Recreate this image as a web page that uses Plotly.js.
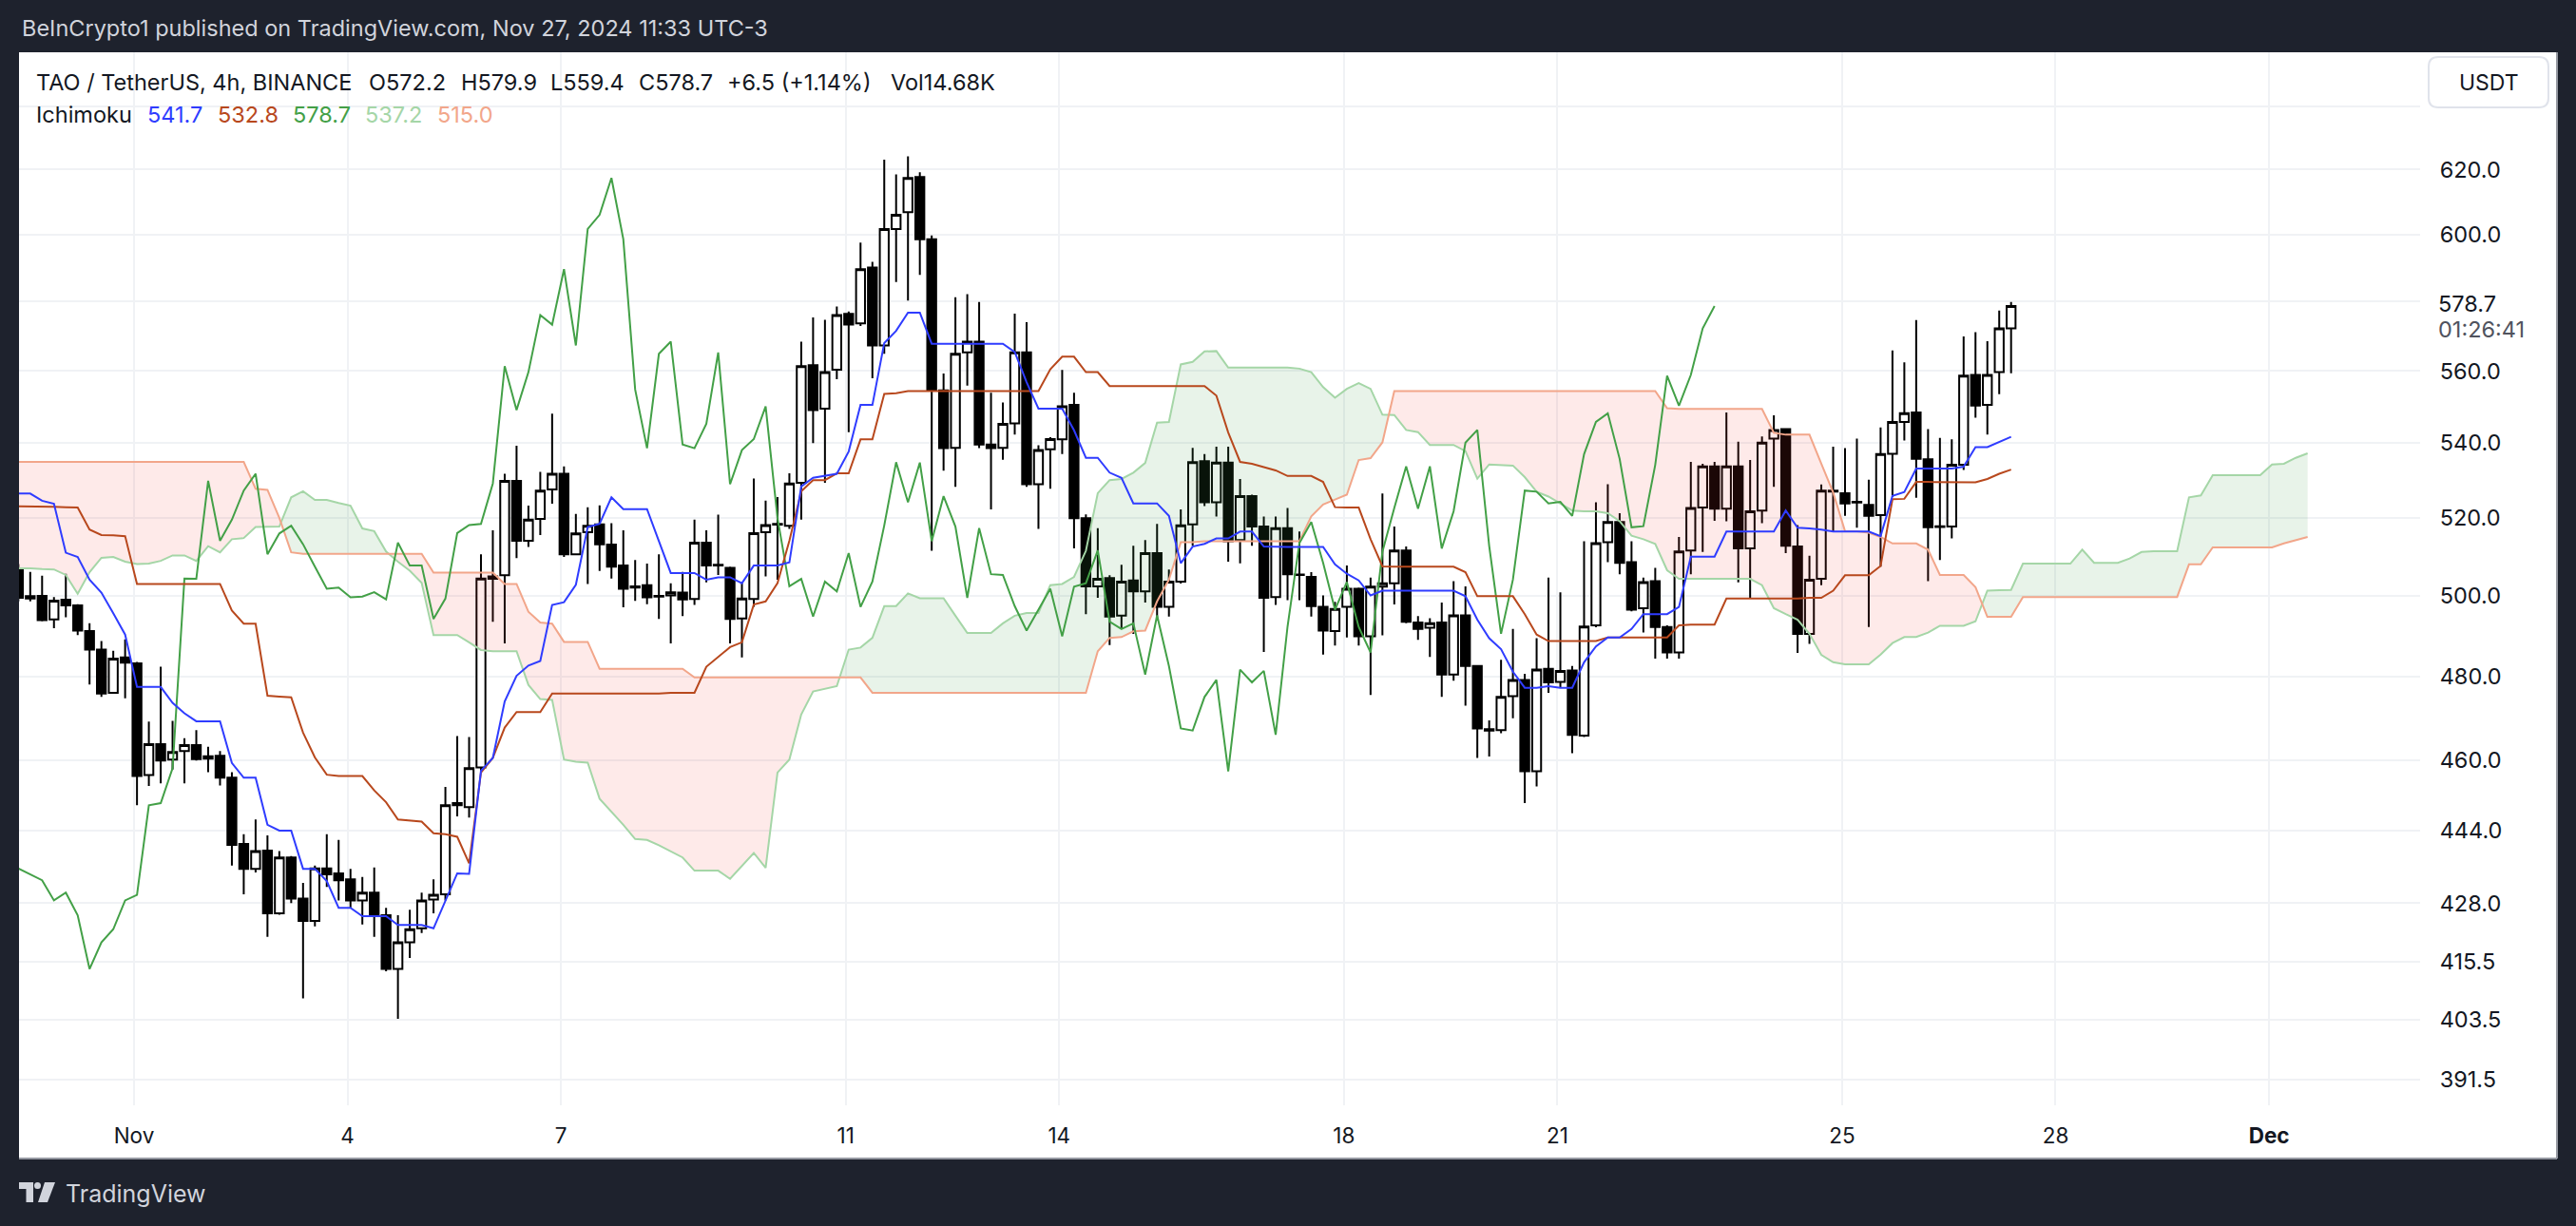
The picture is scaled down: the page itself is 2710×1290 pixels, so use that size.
<!DOCTYPE html>
<html>
<head>
<meta charset="utf-8">
<script src="https://cdn.plot.ly/plotly-3.0.1.min.js"></script>
<style>
html,body{margin:0;padding:0;background:#1e222d;}
#chart{width:2710px;height:1290px;}
</style>
</head>
<body>
<div id="chart"></div>
<script>
// ---------------- DATA ----------------
// 4h candles, local time UTC-3, first candle opens 2024-10-30 09:00
const firstCandle = Date.UTC(2024, 9, 30, 9, 0);
const candleMs = 4 * 3600 * 1000;

const openP = [506.9,499.8,499.9,494,498.9,497.5,491.1,486.5,476,484.6,
483.1,456.6,463.8,460.2,462.2,463.6,461,461.1,456,441,
435.5,439.5,425.8,438,429,424.2,435.6,434.5,433.2,428.6,
430.3,425.4,414,419.6,422.6,428.8,429.9,449.7,449.3,458.4,
504.8,505.1,529.8,514,519.7,527.5,531.7,510.5,516.2,518.3,
513,507.6,502.3,502.6,499.9,500,500.7,499.1,513.5,507.8,
507,494.2,499.1,516.2,518.2,517.9,529.3,561.7,549.5,560.4,
576.4,573.7,590.1,567.3,601.7,606.8,617.7,598.6,554.6,538.7,
565.3,568.4,539.6,538.7,545.4,565.3,528.9,538.3,541,550.5,
519.9,502.3,504.4,494.9,503.8,501,510.8,497.1,503.5,518.3,
535.1,524.1,534.7,514.2,525.7,517.7,499.6,517.3,505.3,504.7,
497.1,491.1,497.1,501.7,489.8,502.2,503.1,511.5,493.2,491.9,
493.2,480.4,495,482.5,467.3,467.1,475.2,479.1,457.5,481.8,
478.6,481.4,465.8,492.5,513.6,518.9,508.5,496.8,503.6,492.1,
485.8,511.5,522.7,533.7,522.4,533.7,512,521.9,541.2,543.8,
512.5,490.4,504.2,527.2,526.5,524,523.4,520.7,537.1,545.8,
548.4,535.6,517.6,517.7,534.1,558.9,550.5,559.7,572.2];

const highP = [508,506,505,499.6,505.5,497.8,493,488.6,486.2,489,
483.5,469.1,482.3,469.3,465.2,467.1,463.2,462.2,457.3,443.2,
446.5,442.9,439.4,438.3,432.4,436.2,443.2,441.9,435.5,433.7,
435.8,427,425.4,426.6,430.3,433.2,453.9,465.7,465.5,510.5,
516.7,531.7,539.3,523.2,532.2,548.1,533.7,521,522.8,523.3,
518.6,516.7,509,508.1,510.5,503.1,506,519.5,516.7,520.8,
507.3,503.3,530.4,524.5,525.5,531.8,568.4,575.4,574.7,578.6,
577.1,597.6,591.8,623.1,618.5,624.2,619.2,599.7,559.3,581.3,
582.2,579.9,553.9,551.2,576.5,574,539.4,541.6,560.3,553.9,
520.9,517.3,505.1,507.8,512.7,514.2,518.4,506.6,522.2,538.7,
537,539,539,530.3,526.1,520.3,520.3,522.6,516.4,505.9,
500,498.4,507.6,502,504.5,526.4,517.7,512.5,494.8,494.3,
498.2,503.6,502.3,482.6,469.4,484,491.6,480.6,489.3,504.5,
500.8,482.5,513.9,524.1,528.9,521.2,513.9,504.5,507,492.5,
515,534.9,534.4,534.9,548.4,540.4,535.4,541.8,547.6,544.1,
518.1,510.1,528.8,539,538.6,541.2,530.1,544.3,565.9,562.5,
574.6,543.8,541.4,541,569.9,571.1,568.5,577.4,579.9];

const lowP = [498.5,498.5,493.5,491.8,494.5,490.1,478,475,475.8,474.7,
449.7,454.1,454.7,457.9,454.7,460,457.3,454.2,436.2,429.9,
434.7,420.8,425.5,428,407.9,423,431.5,428.6,427,423.4,
420.8,413.5,403.7,416.3,421.6,425.8,428.6,447.2,446.9,457.5,
493.4,488,509.5,512.4,515.5,523.7,509.8,510.3,502.9,506.2,
504.3,497,498.6,497.8,494.1,488,494.8,497.6,503.3,505.2,
488,484.6,497.1,504.8,504,517.1,519.5,540,529.3,557.7,
543,572.9,558,564.9,585.8,580.3,587.9,511.4,532.5,528.2,
555.9,538.6,522.2,535.5,542.3,528.2,517.1,527.7,537,512,
495.3,499.4,487.6,491.8,490.4,498.2,494.1,494.7,503,512.7,
523.1,520.3,508.6,508.2,512.7,485.9,497.6,498.8,498.8,494.7,
485.3,487.5,489.5,487.5,475.5,490,497.7,493,488.9,484.7,
475,478.9,472.9,460.6,460.9,466.4,469.9,450.2,454,476,
477.2,461.7,465.5,492,508.5,505.4,496,490.7,484.3,484.3,
484.3,505.4,511.1,519.2,519.1,503.3,499.4,518.6,528.2,510.8,
485.7,487.9,502.6,516.2,520.5,517.4,492.1,507.3,525.5,540.7,
525.3,503.6,509,514.6,532.7,547,542.3,553.5,559.4];

const closeP = [499.4,499.2,493.8,498.7,497.5,491.2,486.5,475.8,484.3,483.3,
456.4,463.8,460,462,463.6,460.3,460.4,456,440.8,435.5,
439.4,425.8,438,429,424.2,435.6,434.3,433,428.6,430.3,
425.4,414,419.6,422.4,428.6,429.8,449.7,450.2,458.2,504.3,
504.2,529.8,514,519.5,527.2,531.7,510.5,515.9,517.9,513.1,
507.3,501.7,502,499.5,499.7,500.8,499,513.5,507.6,507.6,
494.1,499.2,516,518.1,518.4,529.1,561.4,549.1,559.7,576.1,
573.3,589.6,567.3,601.7,606,617.4,598.6,554.8,538.6,564.9,
568.4,539.6,538.6,545.3,565.3,528.9,538.1,541.1,550.1,519.9,
502.3,504.2,494.7,503.5,501,510.8,497.1,503.5,518,534.8,
524.1,534.7,513.9,525.7,517.7,499.4,517.3,505.4,505.2,497.3,
491.2,496.6,501.7,489.8,502.2,503.1,511.5,493.4,491.6,493,
480.4,495,482.5,467.5,467,475,479.1,457.5,481.6,478.5,
481.3,466,492.2,513.4,518.9,508.3,496.4,503.4,492.1,485.8,
511.2,522.6,533.7,522.4,533.7,512,521.7,540.1,543.6,512.7,
490.4,504,527.2,526.9,523.8,524.2,520.5,537,545.8,548.2,
535.7,517.5,517.8,534.1,558.7,550.3,558.9,572.2,578.7];

// Ichimoku: conversion (tenkan) and base (kijun) lines, one value per candle
const tenkan = [526.4,526.4,524.5,523.7,510.9,509.8,504,500.7,495.5,490.2,
477.4,477.4,477.4,473.6,471.1,469.2,469.2,469.2,459.4,456,
456,445.3,444,444,435.5,435.5,432.8,427,427,425.2,
425.2,425.2,423.3,423.3,423.3,422.6,428.6,434.5,434.4,457.6,
460.6,473.9,480.1,482.6,483.7,497.6,498.3,502.7,517.6,518.4,
525.4,522.3,522.3,522.3,513.9,505.7,505.7,505.7,504,504.6,
504.6,503.1,507.6,507.6,507.6,508.4,528.3,530.6,531.2,531.7,
537.7,550.5,550.5,568,571.5,576.8,576.8,567.8,567.8,567.8,
567.8,567.8,567.8,567.8,565.4,556.9,549.5,549.5,549.5,543.5,
536,536,532,530.6,523.8,523.8,523.8,520.5,508.2,512.5,
513.2,514.6,514.6,516.4,516.4,512.5,512.4,512.4,512.4,512.4,
512.4,507.9,505.5,503.8,500,501.2,501.2,501.2,501.2,501.2,
501.2,501.2,499.8,493.9,489.3,486.6,481.1,477.2,477.2,477.6,
477.2,477.2,483.4,487.3,489.5,489.5,491.6,495.3,495.3,495.3,
497.1,509.9,509.9,509.9,516.4,516.4,516.4,516.4,516.4,521.9,
517.4,517.2,516.9,516.4,516.4,516.4,516.4,515.2,525.8,526.8,
533.1,533.1,533.1,533.1,533.6,538.9,538.9,540.4,541.7];

const kijun = [523,523,523,522.9,522.8,522.7,516.9,515.5,515.4,515.2,
502.9,502.9,502.9,502.9,502.9,502.9,502.9,502.9,496.2,492.9,
492.9,475.3,475.1,474.9,466.5,460.7,456.7,456.4,456.4,456.4,
453.1,450.4,446.5,446.2,446,443.4,443.2,442.6,436.7,457.2,
460.6,467.7,471.4,471.4,471.4,475.8,475.8,475.8,475.8,475.8,
475.8,475.8,475.8,475.8,475.8,476,476,476,482.3,484.8,
487.1,488.3,497.7,498.5,503.1,514,527,530,530,531.8,
531.8,541,541,553.6,553.8,554.4,554.4,554.4,554.4,554.4,
554.4,554.4,554.4,554.4,554.4,554.4,554.4,560.5,564.1,564.1,
559.7,559.7,555.8,555.8,555.8,555.8,555.8,555.8,555.8,555.8,
555.8,553.1,542.9,534.9,534.4,533.5,532.6,531.1,531.1,531.1,
529.5,522.8,522.7,522.7,514.4,507.4,507.3,507.3,507.3,507.3,
507.3,507.3,505.9,499.8,499.8,499.8,499.8,495.3,490.2,488.6,
488.6,488.6,488.6,488.6,489.5,489.5,489.5,489.5,489.5,489.5,
492.5,492.7,492.7,492.7,499.2,499.2,499.2,499.2,499.2,499.2,
499.2,499.4,499.4,501.2,505.1,505.1,505.1,507.5,524.9,525,
529.5,529.5,529.5,529.5,529.5,529.4,530.3,531.7,532.8];

// Leading spans, as plotted (already displaced 25 candles ahead), from the first candle slot
const spanA = [506.9,506.9,506.7,506.6,505.2,500.4,505.9,509.6,509.8,508.6,
508,508.1,508.8,510.2,510.2,508.8,512.6,511,514.4,514.7,
517.6,517.7,517.7,525.4,527,524.7,524.7,523.9,523.2,517.2,
516.5,511.2,508.6,506.3,503.2,490.1,490.1,490.1,488.3,486.4,
486.1,486.1,486.1,477.9,474.5,474.3,460.2,459.7,459.5,451.2,
448.3,445.3,442.1,441.9,440.7,439.4,438,435.1,435.1,435.1,
433.3,436.1,439,435.7,457.2,460.2,470.8,476.3,477,477.6,
486.5,487,489.4,497.3,497.3,500.5,499.3,499.3,499.3,494.9,
490.6,490.6,490.6,493,494.9,495.6,495.6,502.6,502.9,504.7,
511.4,526.5,530,530.3,532,534.6,545.6,545.8,561.9,562.6,
565.6,565.7,561,561,561,561,561,561,560.7,559.7,
555.5,552.5,555,556.6,555,547.8,547.7,543.6,543,539.5,
539.5,539.5,537.8,530.4,534.2,534.1,533.9,530.8,526.9,525.6,
523.8,521.9,521.7,521.7,521.2,519.1,515.3,514.4,513.2,506.4,
504.2,504.2,504.2,504.2,504.2,504.2,504.2,502.6,496.8,495.3,
493.9,490.4,485.2,483.4,482.9,482.9,482.9,485.3,488.1,489.6,
489.6,490.7,492.4,492.4,492.4,493.5,501.2,501.3,501.4,508.1,
508.1,508.1,508.1,508.1,511.7,508.3,508.3,508.3,509.4,511.1,
511.3,511.3,511.3,525.4,525.9,531.3,531.3,531.3,531.3,531.3,
534.2,534.4,536,537.2];

const spanB = [534.9,534.9,534.9,534.9,534.9,534.9,534.9,534.9,534.9,534.9,
534.9,534.9,534.9,534.9,534.9,534.9,534.9,534.9,534.9,534.9,
527.7,527.4,520,511,510.6,510.6,510.6,510.6,510.6,510.6,
510.6,510.6,510.6,510.6,510.6,505.8,505.8,505.8,505.8,505.8,
505.8,502.9,502.9,495.9,493.2,492.9,488.4,488.4,488.4,481.8,
481.8,481.8,481.8,481.8,481.8,481.8,481.8,479.7,479.7,479.7,
479.7,479.7,479.7,479.7,479.7,479.7,479.7,479.7,479.7,479.7,
479.7,479.7,476,476,476,476,476,476,476,476,
476,476,476,476,476,476,476,476,476,476,
476,486.1,489.4,489.6,491,491.2,498.5,504,513.6,513.6,
513.9,513.9,513.9,513.9,513.9,513.9,513.9,513.9,513.9,520.4,
523.5,524.8,526.1,535.4,535.9,540.2,554.4,554.4,554.4,554.4,
554.4,554.4,554.4,554.4,554.4,554.4,554.4,554.4,554.4,554.4,
554.4,554.4,554.4,554.4,554.4,554.4,554.4,554.4,554.4,549.6,
549.4,549.4,549.4,549.4,549.4,549.4,549.4,549.4,542.8,542.3,
542.3,542.3,534.4,526.7,516.5,516.5,516.1,515,513.3,513.3,
513.3,511.7,505.2,505.2,505.2,502.1,494.6,494.6,494.6,499.6,
499.6,499.6,499.6,499.6,499.6,499.6,499.6,499.6,499.6,499.6,
499.6,499.6,499.6,507.9,507.9,512.3,512.3,512.3,512.3,512.3,
512.3,513.3,514.2,515];

const lagShift = 25;

// Axis labels
const dateTickDays = [[10,1],[10,4],[10,7],[10,11],[10,14],[10,18],[10,21],[10,25],[10,28],[11,1]];
const dateTickText = ['Nov','4','7','11','14','18','21','25','28','<b>Dec</b>'];
const priceGrid = [640,620,600,580,560,540,520,500,480,460,444,428,415.5,403.5,391.5];
const priceText = ['','620.0','600.0','','560.0','540.0','520.0','500.0','480.0','460.0','444.0','428.0','415.5','403.5','391.5'];

// Legend texts
const titleLine = 'BeInCrypto1 published on TradingView.com, Nov 27, 2024 11:33 UTC-3';
const symbolText = 'TAO / TetherUS, 4h, BINANCE';
const ohlcText = ['O572.2','H579.9','L559.4','C578.7','+6.5 (+1.14%)','Vol14.68K'];
const ichiValues = ['541.7','532.8','578.7','537.2','515.0'];
const lastPrice = 578.7;
const countdown = '01:26:41';

// ---------------- STYLE / LAYOUT ----------------
const W = 2710, H = 1290;
const plotL = 20, plotR = 2546, plotT = 55, plotB = 1163;
const PX = x => (x - plotL) / (plotR - plotL);
const PY = y => (plotB - y) / (plotB - plotT);

const colTenkan = '#2f3cff', colKijun = '#b8481d', colLag = '#43a047',
      colA = '#a5d6a7', colB = '#f2a68a';
const FONT = 'Inter, Roboto, "Noto Sans", sans-serif';

const tAt = k => firstCandle + k * candleMs;
const xC = openP.map((_, k) => tAt(k));

// cloud with crossing points
const cx = [], ca = [], cb = [];
for (let j = 0; j < spanA.length; j++) {
  cx.push(tAt(j)); ca.push(spanA[j]); cb.push(spanB[j]);
  if (j < spanA.length - 1) {
    const d0 = Math.log(spanA[j]) - Math.log(spanB[j]);
    const d1 = Math.log(spanA[j+1]) - Math.log(spanB[j+1]);
    if (d0 * d1 < 0) {
      const s = d0 / (d0 - d1);
      const v = Math.exp(Math.log(spanA[j]) + s * (Math.log(spanA[j+1]) - Math.log(spanA[j])));
      cx.push(tAt(j) + s * candleMs); ca.push(v); cb.push(v);
    }
  }
}
const chi = ca.map((a, i) => Math.max(a, cb[i]));
const spanX = spanA.map((_, j) => tAt(j));

const lagX = [], lagY = [];
for (let k = lagShift; k < closeP.length; k++) { lagX.push(tAt(k - lagShift)); lagY.push(closeP[k]); }

const noLine = {width: 0, color: 'rgba(0,0,0,0)'};
const traces = [
  {x: cx, y: cb, mode: 'lines', line: noLine, hoverinfo: 'skip', showlegend: false},
  {x: cx, y: chi, mode: 'lines', line: noLine, fill: 'tonexty', fillcolor: 'rgba(67,160,71,0.12)', hoverinfo: 'skip', showlegend: false},
  {x: cx, y: ca, mode: 'lines', line: noLine, hoverinfo: 'skip', showlegend: false},
  {x: cx, y: chi, mode: 'lines', line: noLine, fill: 'tonexty', fillcolor: 'rgba(244,67,54,0.11)', hoverinfo: 'skip', showlegend: false},
  {x: spanX, y: spanA, mode: 'lines', line: {color: colA, width: 2}, hoverinfo: 'skip', showlegend: false},
  {x: spanX, y: spanB, mode: 'lines', line: {color: colB, width: 2}, hoverinfo: 'skip', showlegend: false},
  {type: 'candlestick', x: xC, open: openP, high: highP, low: lowP, close: closeP,
   increasing: {line: {color: '#000000', width: 2}, fillcolor: '#ffffff'},
   decreasing: {line: {color: '#000000', width: 2}, fillcolor: '#000000'},
   whiskerwidth: 0, hoverinfo: 'skip', showlegend: false},
  {x: lagX, y: lagY, mode: 'lines', line: {color: colLag, width: 2}, hoverinfo: 'skip', showlegend: false},
  {x: xC, y: kijun, mode: 'lines', line: {color: colKijun, width: 2}, hoverinfo: 'skip', showlegend: false},
  {x: xC, y: tenkan, mode: 'lines', line: {color: colTenkan, width: 2}, hoverinfo: 'skip', showlegend: false}
];

const nov1 = Date.UTC(2024, 10, 1);
const pxPerDay = 74.87;
const xLeft = nov1 + (plotL - 141) / pxPerDay * 86400000;
const xRight = nov1 + (plotR - 141) / pxPerDay * 86400000;
const yTop = 2.79239 + (178.5 - plotT) / 4795.6;
const yBot = 2.79239 - (plotB - 178.5) / 4795.6;

const ann = [];
function txt(x, y, text, color, size, anchor, extra) {
  ann.push(Object.assign({xref: 'paper', yref: 'paper', x: PX(x), y: PY(y), text: text, showarrow: false,
    xanchor: anchor || 'left', yanchor: 'middle', font: {family: FONT, size: size, color: color}}, extra || {}));
}
txt(21, 30, titleLine, '#d1d4dc', 23.5);
txt(36, 87, symbolText, '#131722', 23.5);
const ohlcX = [386, 483, 577, 670, 763, 935];
ohlcText.forEach((t, i) => txt(ohlcX[i], 87, t, '#131722', 23.5));
txt(36, 121, 'Ichimoku', '#131722', 23.5);
const ichiX = [153, 227, 306, 382, 458];
const ichiCol = [colTenkan, colKijun, colLag, colA, colB];
ichiValues.forEach((t, i) => txt(ichiX[i], 121, t, ichiCol[i], 23.5));
txt(2618, 87, 'USDT', '#131722', 23, 'center');
txt(2563, 320, lastPrice.toFixed(1), '#131722', 23.5);
txt(2563, 347, countdown, '#50535e', 23.5);
txt(67, 1256, 'TradingView', '#d1d4dc', 25);

function path(pts) {
  return 'M' + pts.map(p => PX(p[0]).toFixed(6) + ',' + PY(p[1]).toFixed(6)).join(' L') + ' Z';
}
function rrect(x0, y0, x1, y1, r) {
  const P = (x, y) => PX(x).toFixed(6) + ',' + PY(y).toFixed(6);
  return 'M' + P(x0 + r, y0) + ' L' + P(x1 - r, y0) + ' Q' + P(x1, y0) + ' ' + P(x1, y0 + r) +
    ' L' + P(x1, y1 - r) + ' Q' + P(x1, y1) + ' ' + P(x1 - r, y1) +
    ' L' + P(x0 + r, y1) + ' Q' + P(x0, y1) + ' ' + P(x0, y1 - r) +
    ' L' + P(x0, y0 + r) + ' Q' + P(x0, y0) + ' ' + P(x0 + r, y0) + ' Z';
}

const shapes = [
  {type: 'rect', xref: 'paper', yref: 'paper', x0: PX(20), x1: PX(2690), y0: PY(1219), y1: PY(55),
   fillcolor: '#ffffff', line: {width: 0}, layer: 'below'},
  {type: 'line', xref: 'paper', yref: 'paper', x0: PX(20), x1: PX(2690), y0: PY(1219), y1: PY(1219),
   line: {color: '#9598a1', width: 2}, layer: 'below'},
  {type: 'line', xref: 'paper', yref: 'paper', x0: PX(2690), x1: PX(2690), y0: PY(1219), y1: PY(55),
   line: {color: '#9598a1', width: 2}, layer: 'below'},
  {type: 'path', xref: 'paper', yref: 'paper', path: rrect(2555, 60, 2681, 113, 10),
   fillcolor: '#ffffff', line: {color: '#e0e3eb', width: 2}, layer: 'above'},
  {type: 'line', xref: 'paper', yref: 'y', x0: 0, x1: 1, y0: Math.log10(lastPrice), y1: Math.log10(lastPrice),
   line: {color: '#ffffff', width: 2, dash: 'dot'}, layer: 'above'},
  // TradingView logo
  {type: 'path', xref: 'paper', yref: 'paper', path: path([[20,1244],[35,1244],[35,1265],[27.5,1265],[27.5,1251],[20,1251]]),
   fillcolor: '#d1d4dc', line: {width: 0}},
  {type: 'circle', xref: 'paper', yref: 'paper', x0: PX(36), x1: PX(43), y0: PY(1251), y1: PY(1244),
   fillcolor: '#d1d4dc', line: {width: 0}},
  {type: 'path', xref: 'paper', yref: 'paper', path: path([[47,1244],[58,1244],[50,1265],[40,1265]]),
   fillcolor: '#d1d4dc', line: {width: 0}}
];

const layout = {
  width: W, height: H,
  margin: {l: plotL, r: W - plotR, t: plotT, b: H - plotB, pad: 0},
  paper_bgcolor: '#1e222d', plot_bgcolor: '#ffffff',
  showlegend: false,
  font: {family: FONT, size: 22, color: '#131722'},
  xaxis: {
    type: 'date', range: [xLeft, xRight], rangeslider: {visible: false},
    tickmode: 'array', tickvals: dateTickDays.map(d => Date.UTC(2024, d[0], d[1])), ticktext: dateTickText,
    showgrid: true, gridcolor: '#f0f2f5', gridwidth: 2, zeroline: false, showline: false,
    ticks: 'outside', ticklen: 12, tickcolor: 'rgba(0,0,0,0)',
    tickfont: {family: FONT, size: 22.5, color: '#131722'}, fixedrange: true
  },
  yaxis: {
    type: 'log', range: [yBot, yTop], side: 'right',
    tickmode: 'array', tickvals: priceGrid, ticktext: priceText,
    showgrid: true, gridcolor: '#f0f2f5', gridwidth: 2, zeroline: false, showline: false,
    ticks: 'outside', ticklen: 15, tickcolor: 'rgba(0,0,0,0)',
    tickfont: {family: FONT, size: 23.5, color: '#131722'}, fixedrange: true
  },
  annotations: ann,
  shapes: shapes,
  boxgap: 0.25, boxgroupgap: 0
};

Plotly.newPlot('chart', traces, layout, {staticPlot: true, displayModeBar: false});
</script>
</body>
</html>
